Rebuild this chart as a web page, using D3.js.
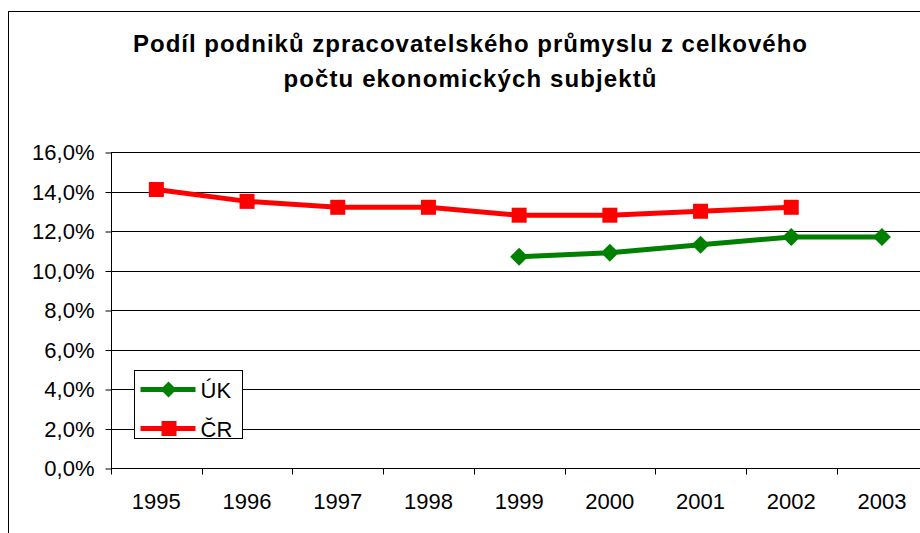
<!DOCTYPE html>
<html>
<head>
<meta charset="utf-8">
<script src="https://cdn.jsdelivr.net/npm/d3@7"></script>
<style>
  body { margin: 0; background: #fff; }
  svg { display: block; font-family: "Liberation Sans", Arial, sans-serif; }
</style>
</head>
<body>
<script>
var w = 920;
var h = 533;

const years = ["1995", "1996", "1997", "1998", "1999", "2000", "2001", "2002", "2003"];
const uk = [null, null, null, null, 10.7, 10.9, 11.3, 11.7, 11.7];
const cr = [14.1, 13.5, 13.2, 13.2, 12.8, 12.8, 13.0, 13.2, null];
const yTicks = [0, 2, 4, 6, 8, 10, 12, 14, 16];
const titleLines = ["Podíl podniků zpracovatelského průmyslu z celkového", "počtu ekonomických subjektů"];

const margin = {top: 152, left: 111, bottom: 65};
const plotW = 9 * 90.7;
const plotH = 468 - 152;
const titleWidths = [674, 373];

const svg = d3.select("body").append("svg")
    .attr("width", w)
    .attr("height", h);

// outer chart border
svg.append("rect")
    .attr("x", 8.5).attr("y", 11.5)
    .attr("width", 960).attr("height", 600)
    .attr("fill", "none").attr("stroke", "#000");

svg.selectAll(".title")
    .data(titleLines)
    .enter().append("text")
    .attr("x", 470)
    .attr("y", (d, i) => 52 + i * 35)
    .attr("text-anchor", "middle")
    .attr("font-size", "24px")
    .attr("font-weight", "bold")
    .attr("textLength", (d, i) => titleWidths[i])
    .attr("lengthAdjust", "spacing")
    .text(d => d);

const g = svg.append("g")
    .attr("transform", "translate(" + margin.left + "," + margin.top + ")");

const x = d3.scaleBand().domain(years).range([0, plotW]);
const y = d3.scaleLinear().domain([0, 16]).range([plotH, 0]);

// gridlines
g.selectAll(".grid")
    .data(yTicks.slice(1))
    .enter().append("line")
    .attr("x1", 0).attr("x2", plotW)
    .attr("y1", d => Math.round(y(d)) + 0.5)
    .attr("y2", d => Math.round(y(d)) + 0.5)
    .attr("stroke", "#000")
    .attr("stroke-width", 1);

// y axis
const yAxis = g.append("g")
    .attr("transform", "translate(0.5,0.5)")
    .call(d3.axisLeft(y).tickValues(yTicks).tickSize(6).tickPadding(11)
        .tickFormat(d => d3.format(".1f")(d).replace(".", ",") + "%"));
yAxis.selectAll("text").attr("font-size", "22px").attr("font-family", "Liberation Sans, Arial, sans-serif").attr("fill", "#000");
yAxis.selectAll("line").attr("stroke", "#000");
yAxis.select(".domain").attr("stroke", "#000").attr("d", "M0," + plotH + "V0");

// x axis with ticks between categories
const xAxis = g.append("g")
    .attr("transform", "translate(0," + (Math.round(plotH) + 0.5) + ")");
xAxis.append("line")
    .attr("x1", 0).attr("x2", plotW)
    .attr("stroke", "#000");
xAxis.selectAll(".xt")
    .data(years)
    .enter().append("line")
    .attr("x1", d => Math.round(x(d)) + 0.5)
    .attr("x2", d => Math.round(x(d)) + 0.5)
    .attr("y1", 0).attr("y2", 6)
    .attr("stroke", "#000");
xAxis.selectAll(".xl")
    .data(years)
    .enter().append("text")
    .attr("x", d => x(d) + x.bandwidth() / 2)
    .attr("y", 40)
    .attr("text-anchor", "middle")
    .attr("font-size", "22px")
    .text(d => d);

const cx = i => x(years[i]) + x.bandwidth() / 2;

const line = d3.line()
    .defined(d => d.v != null)
    .x(d => cx(d.i))
    .y(d => y(d.v));

const ukData = uk.map((v, i) => ({v: v, i: i}));
const crData = cr.map((v, i) => ({v: v, i: i}));

g.append("path").datum(ukData)
    .attr("d", line).attr("fill", "none")
    .attr("stroke", "#008000").attr("stroke-width", 5);
g.append("path").datum(crData)
    .attr("d", line).attr("fill", "none")
    .attr("stroke", "#ff0000").attr("stroke-width", 5);

const diamond = s => "M0," + (-s) + "L" + s + ",0L0," + s + "L" + (-s) + ",0Z";

g.selectAll(".uk")
    .data(ukData.filter(d => d.v != null))
    .enter().append("path")
    .attr("transform", d => "translate(" + cx(d.i) + "," + y(d.v) + ")")
    .attr("d", diamond(9))
    .attr("fill", "#008000");

g.selectAll(".cr")
    .data(crData.filter(d => d.v != null))
    .enter().append("rect")
    .attr("x", d => cx(d.i) - 7.5)
    .attr("y", d => y(d.v) - 7.5)
    .attr("width", 15).attr("height", 15)
    .attr("fill", "#ff0000");

// legend
const lg = svg.append("g").attr("transform", "translate(134.5,370.5)");
lg.append("rect")
    .attr("width", 108).attr("height", 68)
    .attr("fill", "#fff").attr("stroke", "#000");
const items = [
    {name: "ÚK", color: "#008000", shape: "d"},
    {name: "ČR", color: "#ff0000", shape: "s"}
];
const li = lg.selectAll(".li").data(items).enter().append("g")
    .attr("transform", (d, i) => "translate(0," + (19 + i * 39) + ")");
li.append("line")
    .attr("x1", 6).attr("x2", 61)
    .attr("stroke", d => d.color).attr("stroke-width", 5);
li.each(function(d) {
    const s = d3.select(this);
    if (d.shape == "d") {
        s.append("path").attr("transform", "translate(34,0)").attr("d", diamond(8)).attr("fill", d.color);
    } else {
        s.append("rect").attr("x", 27).attr("y", -7.5).attr("width", 15).attr("height", 15).attr("fill", d.color);
    }
});
li.append("text")
    .attr("x", 66).attr("y", 8)
    .attr("font-size", "22px")
    .text(d => d.name);
</script>
</body>
</html>
